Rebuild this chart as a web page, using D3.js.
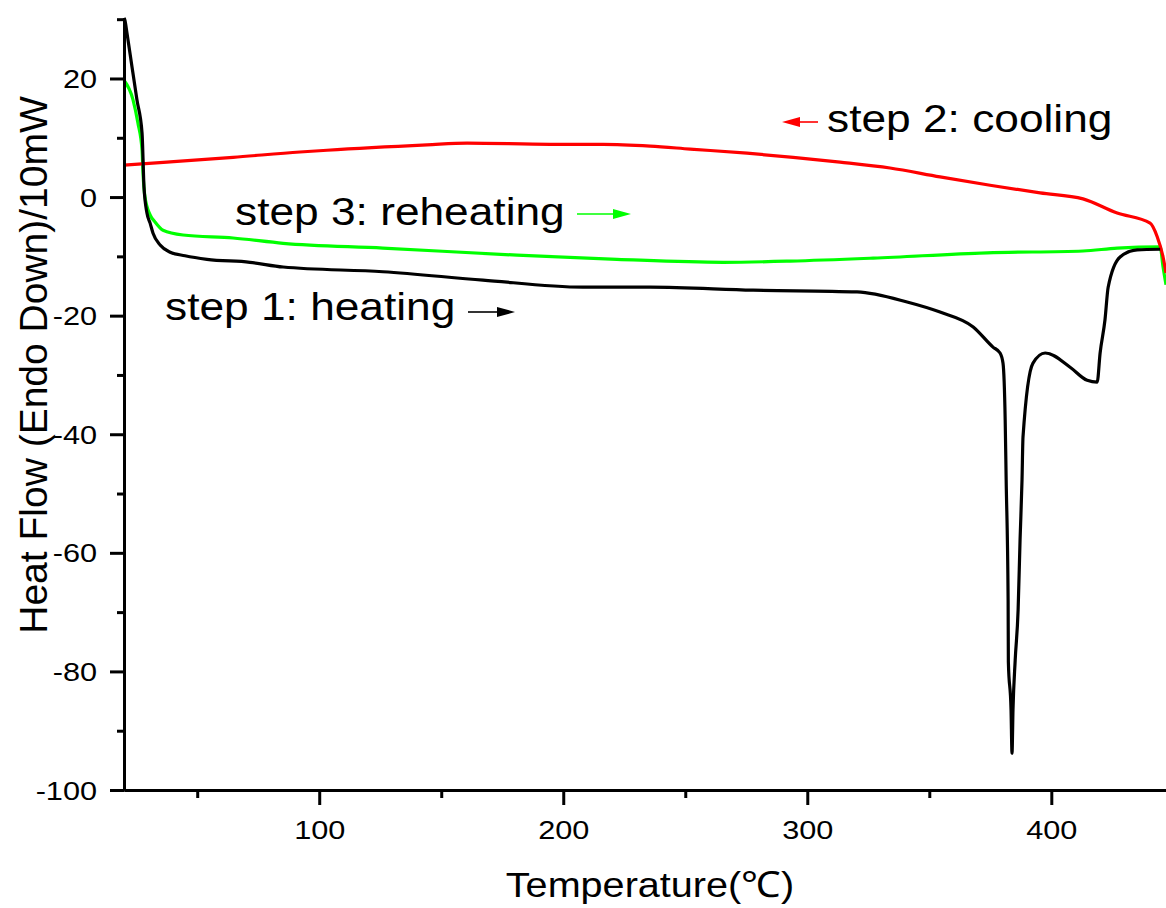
<!DOCTYPE html>
<html>
<head>
<meta charset="utf-8">
<script src="https://cdn.jsdelivr.net/npm/d3@7"></script>
<style>
  body { margin: 0; background: #fff; }
  text { font-family: "Liberation Sans", Arial, sans-serif; fill: #000; }
</style>
</head>
<body>
<div class="dsc"></div>
<script>
// step 1: heating (black)
var heatT = [20, 20.4, 21.2, 23.3, 25.3, 27.4, 28.2, 29.4, 30.7, 31.9, 34.8, 38.9, 45.0, 54.0, 71.6, 85.2, 126.1, 167.1, 208.1, 235.6, 277.8, 320.4, 340.9, 354.4, 368.0, 376.1, 379.0, 380.2, 381.1, 381.5, 382.3, 382.4, 383.5, 383.9, 384.3, 385.2, 386.4, 387.2, 388.0, 388.4, 392.5, 397.5, 407.7, 414.7, 418.8, 420.0, 422.0, 423.3, 428.2, 435.2, 444.6];
var heatV = [30.2, 29.8, 27.7, 21.9, 16.4, 10.8, 1.7, -2.7, -4.4, -6.1, -8.1, -9.3, -9.9, -10.5, -11.0, -11.8, -12.6, -14.0, -15.2, -15.2, -15.7, -16.0, -17.7, -19.4, -21.9, -25.3, -26.3, -28.0, -37.6, -47.7, -68.0, -78.4, -86.5, -93.8, -86.5, -78.1, -69.6, -57.8, -47.7, -40.5, -28.0, -26.3, -28.7, -30.9, -31.2, -26.3, -20.7, -15.2, -10.1, -8.9, -8.8];

// step 2: cooling (red), recorded from high to low temperature
var coolT = [447.0, 445.8, 443.4, 440.5, 427.0, 413.0, 395.4, 374.9, 354.4, 333.9, 313.4, 294.2, 275.3, 252.0, 235.6, 216.3, 194.6, 160.6, 144.2, 103.2, 92.1, 64.7, 37.6, 20];
var coolV = [-12.8, -10.1, -6.7, -4.4, -2.7, -0.3, 0.7, 2.0, 3.4, 4.9, 5.9, 6.7, 7.4, 8.1, 8.6, 8.9, 8.9, 9.1, 8.8, 7.9, 7.6, 6.7, 5.9, 5.4];

// step 3: reheating (green)
var reheatT = [20, 23.7, 25.7, 27.4, 27.8, 28.6, 30.7, 32.7, 36.0, 44.2, 64.7, 85.2, 126.1, 181.1, 222.0, 265.5, 293.0, 327.0, 373.7, 413.0, 427.0, 444.6, 445.8, 447.0];
var reheatV = [19.7, 16.4, 12.5, 7.9, 4.0, 0, -3.0, -4.2, -5.6, -6.4, -6.9, -7.8, -8.6, -9.8, -10.5, -11.0, -10.8, -10.3, -9.4, -9.1, -8.6, -8.4, -11.8, -14.8];

var xMajor = [100, 200, 300, 400];
var xMinor = [50, 150, 250, 350];
var yMajor = [-100, -80, -60, -40, -20, 0, 20];
var yMinor = [-90, -70, -50, -30, -10, 10, 30];

var svgWidth = 1166;
var svgHeight = 908;
var margin = {top: 18, right: 0, bottom: 118, left: 124};
var width = svgWidth - margin.left - margin.right;
var height = svgHeight - margin.top - margin.bottom;

// the original figure is a bit wider than tall, text looks stretched sideways
var stretch = 1.18;

var svg = d3.select(".dsc")
  .append("svg")
  .attr("width", svgWidth)
  .attr("height", svgHeight);

var chartGroup = svg.append("g")
  .attr("transform", `translate(${margin.left}, ${margin.top})`);

var x = d3.scaleLinear().domain([20, 447]).range([0, width]);
var y = d3.scaleLinear().domain([-100, 30.2]).range([height, 0]);

function zip(ts, vs) {
  return ts.map((t, i) => [t, vs[i]]);
}

var line = d3.line()
  .curve(d3.curveMonotoneX)
  .x(d => x(d[0]))
  .y(d => y(d[1]));

var series = [
  {pts: zip(reheatT, reheatV), color: "#00ff00"},
  {pts: zip(coolT, coolV).sort((a, b) => a[0] - b[0]), color: "#ff0000"},
  {pts: zip(heatT, heatV), color: "#000000"}
];

chartGroup.selectAll(".curve")
  .data(series)
  .enter()
  .append("path")
  .attr("class", "curve")
  .attr("d", d => line(d.pts))
  .attr("fill", "none")
  .attr("stroke", d => d.color)
  .attr("stroke-width", 3.2)
  .attr("stroke-linejoin", "round");

// axes
var xAxisG = chartGroup.append("g")
  .attr("transform", `translate(0, ${height})`)
  .call(d3.axisBottom(x).tickValues(xMajor).tickSize(15).tickSizeOuter(0).tickFormat(d => String(d)));
chartGroup.append("g")
  .attr("transform", `translate(0, ${height})`)
  .call(d3.axisBottom(x).tickValues(xMinor).tickSize(8).tickSizeOuter(0).tickFormat(""));

var yAxisG = chartGroup.append("g")
  .call(d3.axisLeft(y).tickValues(yMajor).tickSize(14).tickSizeOuter(0).tickFormat(d => String(d)));
chartGroup.append("g")
  .call(d3.axisLeft(y).tickValues(yMinor).tickSize(7).tickSizeOuter(0).tickFormat(""));

chartGroup.selectAll(".domain, .tick line")
  .attr("stroke", "#000")
  .attr("stroke-width", 3);

xAxisG.selectAll("text")
  .attr("font-size", 26)
  .attr("y", 31)
  .attr("dy", "0.71em")
  .attr("transform", `scale(${stretch},1)`);

yAxisG.selectAll("text")
  .attr("font-size", 26)
  .attr("x", -27 / stretch)
  .attr("dy", "0.35em")
  .attr("transform", `scale(${stretch},1)`);

// axis titles
svg.append("text")
  .attr("transform", `translate(650, 897) scale(1.1,1)`)
  .attr("text-anchor", "middle")
  .attr("font-size", 36)
  .text("Temperature(℃)");

svg.append("text")
  .attr("transform", `translate(47, 365) rotate(-90)`)
  .attr("text-anchor", "middle")
  .attr("font-size", 39)
  .text("Heat Flow (Endo Down)/10mW");

// step labels with arrows
var notes = [
  {text: "step 2: cooling", tx: 827, ty: 132, ax1: 818, ax2: 782, ay: 122, color: "#ff0000"},
  {text: "step 3: reheating", tx: 235, ty: 225, ax1: 577, ax2: 631, ay: 214, color: "#00ff00"},
  {text: "step 1: heating", tx: 165, ty: 320, ax1: 468, ax2: 515, ay: 312, color: "#000000"}
];

notes.forEach(function(n) {
  svg.append("text")
    .attr("transform", `translate(${n.tx}, ${n.ty}) scale(1.15,1)`)
    .attr("font-size", 38.5)
    .text(n.text);

  var dir = n.ax2 > n.ax1 ? 1 : -1;
  var headLen = 18;
  svg.append("line")
    .attr("x1", n.ax1)
    .attr("x2", n.ax2 - dir * headLen)
    .attr("y1", n.ay)
    .attr("y2", n.ay)
    .attr("stroke", n.color)
    .attr("stroke-width", 1.6);
  svg.append("path")
    .attr("d", `M${n.ax2},${n.ay} L${n.ax2 - dir * headLen},${n.ay - 5} L${n.ax2 - dir * headLen},${n.ay + 5} Z`)
    .attr("fill", n.color);
});
</script>
</body>
</html>
